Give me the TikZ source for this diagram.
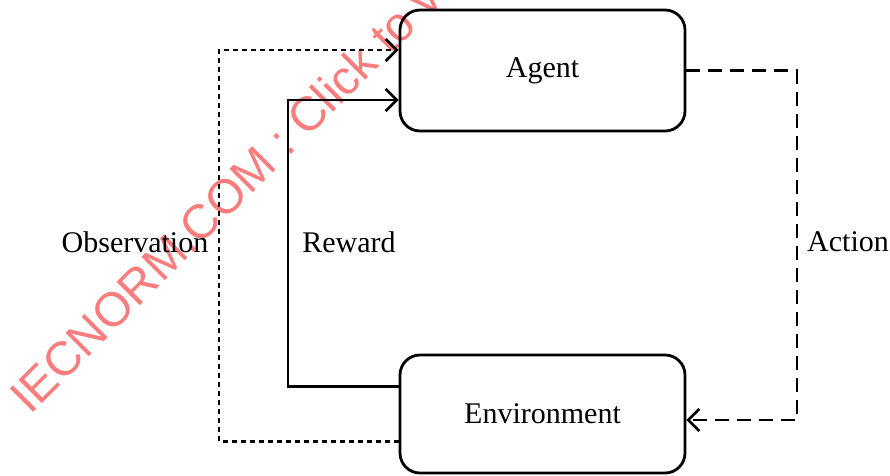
\documentclass[tikz,border=0pt]{standalone}
\usepackage{fontspec}
\setmainfont{Liberation Serif}
\newfontfamily\wmfont{Liberation Sans}
\usetikzlibrary{arrows.meta}
\definecolor{wmred}{RGB}{250,125,125}
\tikzset{
  box/.style={draw, line width=2.8pt, rounded corners=20pt, minimum width=285pt, inner sep=0pt, font=\fontsize{30}{34}\selectfont},
  lbl/.style={font=\fontsize{30}{34}\selectfont, inner sep=0pt},
  conn/.style={line width=2.7pt, -{Straight Barb[length=11pt,width=22pt,line width=2.7pt]}},
  obsline/.style={conn, dash pattern=on 5pt off 4pt},
  actline/.style={conn, dash pattern=on 14pt off 8pt},
}
\begin{document}
\begin{tikzpicture}[x=1pt,y=-1pt]
\useasboundingbox (0,0) rectangle (890,475);
\begin{scope}
\clip (0,0) rectangle (890,475);
\node[anchor=base west, rotate=45, inner sep=0pt, text=wmred, font=\wmfont\fontsize{48}{52}\selectfont] (wm) at (30,416) {IECNORM.COM : Click to view the full PDF};
\end{scope}
\node[box, minimum height=121pt] (agent) at (542.5,70.5) {Agent};
\node[box, minimum height=118pt] (env) at (542.5,414) {Environment};
\coordinate (obsc) at (219,50);
\coordinate (rewc) at (288,100);
\coordinate (actc) at (797,420);
\draw[obsline] ([yshift=-27.7pt]env.west) -| (obsc) -- ([yshift=20.5pt]agent.west);
\draw[conn] ([yshift=27.3pt]env.west) -| (rewc) -- ([yshift=-29.5pt]agent.west);
\draw[actline] (agent.east) -| (actc) -- ([yshift=-6pt]env.east);
\node[lbl] (obs) at (135,242) {Observation};
\node[lbl] (rew) at (349,242) {Reward};
\node[lbl] (act) at (848,242) {Action};
\end{tikzpicture}
\end{document}
